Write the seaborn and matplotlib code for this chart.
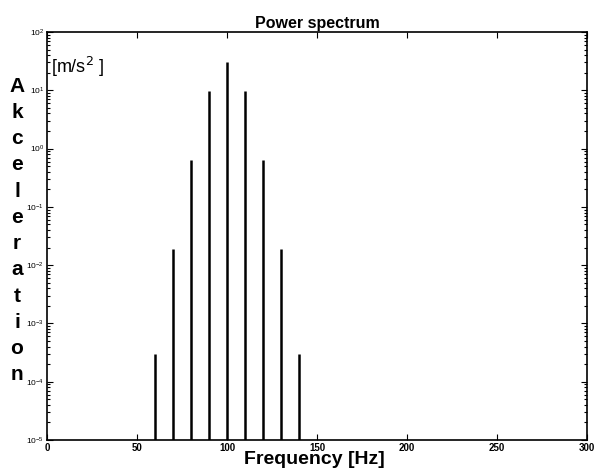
import matplotlib
matplotlib.use("Agg")
import matplotlib.pyplot as plt
import seaborn as sns
import numpy as np
import pandas as pd

# Data
freqs = [60, 70, 80, 90, 100, 110, 120, 130, 140]
amps = [3e-4, 1.9e-2, 0.63, 9.7, 31.0, 9.7, 0.63, 1.9e-2, 3e-4]
ylabel_text = "Akceleration"
xticks = [0, 50, 100, 150, 200, 250, 300]

sns.set_theme(style="ticks")
plt.rcParams['font.family'] = ['Liberation Sans', 'DejaVu Sans']
plt.rcParams['text.color'] = 'black'
plt.rcParams['axes.labelcolor'] = 'black'
plt.rcParams['xtick.color'] = 'black'
plt.rcParams['ytick.color'] = 'black'

fig = plt.figure(figsize=(5.95, 4.72), dpi=100)
ax = fig.add_axes([47/595, 1-440/472, 540/595, 408/472])

df = pd.DataFrame({"f": freqs, "a": amps})
floor = 1e-5
ax.vlines(df["f"], floor, df["a"], color="black", linewidth=1.8)

ax.set_yscale("log")
ax.set_xlim(0, 300)
ax.set_ylim(1e-5, 1e2)
ax.set_xticks(xticks)
ax.set_xticklabels([str(t) for t in xticks], fontsize=7, fontweight="bold")
ax.tick_params(axis="both", which="both", direction="in", top=True, right=True,
               colors="black", width=0.8)
ax.tick_params(axis="y", which="major", length=4, labelsize=6, pad=2)
ax.tick_params(axis="x", which="major", length=4, pad=2)
ax.tick_params(axis="y", which="minor", length=2)
for s in ax.spines.values():
    s.set_color("black")
    s.set_linewidth(1.2)

ax.set_title("Power spectrum", fontsize=11.5, fontweight="bold", pad=3, color="black")
ax.text(0.008, 0.915, r"[m/s$^2$ ]", transform=ax.transAxes, fontsize=13,
        ha="left", va="center", color="black")
ax.set_xlabel("Frequency [Hz]", fontsize=14, fontweight="bold", labelpad=-1.5)
ax.xaxis.label.set_x(0.495)

# vertical stacked y label
n = len(ylabel_text)
y0, y1 = 86, 375
for i, ch in enumerate(ylabel_text):
    ypix = y0 + (y1 - y0) * i / (n - 1)
    fig.text(17/595, 1 - ypix/472, ch, fontsize=15, fontweight="bold",
             ha="center", va="center", color="black")

fig.savefig("out.png", dpi=100)
